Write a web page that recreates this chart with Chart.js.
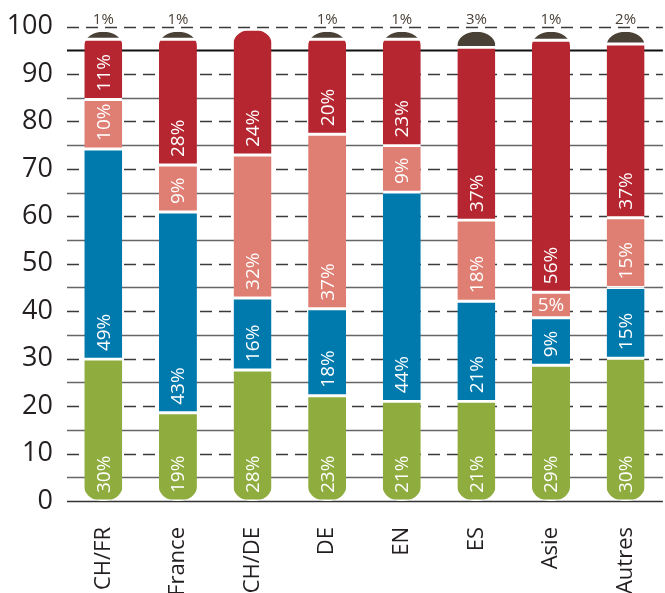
<!DOCTYPE html>
<html>
<head>
<meta charset="utf-8">
<title>Stacked bars</title>
<script src="https://cdn.jsdelivr.net/npm/chart.js@4.4.0/dist/chart.umd.min.js"></script>
<style>
  html, body { margin: 0; padding: 0; background: #fff; overflow: hidden; }
  #wrap { width: 670px; height: 593px; }
</style>
</head>
<body>
<div id="wrap"><canvas id="chart" width="670" height="593"></canvas></div>
<script>
// Categories
const categories = ["CH/FR", "France", "CH/DE", "DE", "EN", "ES", "Asie", "Autres"];

// Segment heights as drawn in the picture
const greenValues  = [29.9, 18.6, 27.6, 22.2, 21.0, 21.0, 28.6, 30.1];
const blueValues   = [44.3, 42.3, 15.2, 18.3, 44.1, 21.1, 10.0, 14.9];
const salmonValues = [10.4,  9.9, 30.1, 36.8,  9.8, 17.1,  5.4, 14.7];
const redValues    = [12.7, 26.5, 26.5, 20.0, 22.4, 36.4, 53.1, 36.6];
const capValues    = [ 1.6,  1.6, null,  1.6,  1.6,  3.3,  1.8,  2.6];

// Printed percentages
const greenLabels  = ["30%", "19%", "28%", "23%", "21%", "21%", "29%", "30%"];
const blueLabels   = ["49%", "43%", "16%", "18%", "44%", "21%", "9%", "15%"];
const salmonLabels = ["10%", "9%", "32%", "37%", "9%", "18%", "5%", "15%"];
const redLabels    = ["11%", "28%", "24%", "20%", "23%", "37%", "56%", "37%"];
const capLabels    = ["1%", "1%", "", "1%", "1%", "3%", "1%", "2%"];

// Y axis: grid every 5, labels every 10
const yTicks = [0, 5, 10, 15, 20, 25, 30, 35, 40, 45, 50, 55, 60, 65, 70, 75, 80, 85, 90, 95, 100];

const FONT = "'Open Sans', 'Noto Sans', sans-serif";

// grid lines: dashed on tens, solid on fives, heavy at 95
const gridPlugin = {
  id: "gridLines",
  beforeDatasetsDraw(chart) {
    const ctx = chart.ctx;
    const yScale = chart.scales.y;
    const area = chart.chartArea;
    yTicks.forEach(v => {
      const py = Math.round(yScale.getPixelForValue(v)) + 0.5;
      ctx.save();
      if (v === 95) {
        ctx.strokeStyle = "#111111";
        ctx.lineWidth = 2.2;
      } else if (v === 0) {
        ctx.strokeStyle = "#333333";
        ctx.lineWidth = 1.6;
      } else if (v % 10 === 0) {
        ctx.strokeStyle = "#3a3a3a";
        ctx.lineWidth = 1.4;
        ctx.setLineDash([12, 7]);
      } else {
        ctx.strokeStyle = "#666666";
        ctx.lineWidth = 1.4;
      }
      ctx.beginPath();
      ctx.moveTo(area.left + 1, py);
      ctx.lineTo(area.right, py);
      ctx.stroke();
      ctx.restore();
    });
  }
};

// clip all bars into capsule shapes (rounded top and bottom)
const capsulePlugin = {
  id: "capsules",
  beforeDatasetsDraw(chart) {
    const ctx = chart.ctx;
    const yScale = chart.scales.y;
    const meta0 = chart.getDatasetMeta(0);
    ctx.save();
    ctx.beginPath();
    meta0.data.forEach((bar, i) => {
      const total = chart.data.datasets.reduce((s, ds) => s + (ds.data[i] || 0), 0);
      const top = yScale.getPixelForValue(total);
      const bottom = yScale.getPixelForValue(0);
      const rx = bar.width / 2;
      const ry = 14;
      ctx.moveTo(bar.x - rx, top + ry);
      ctx.ellipse(bar.x, top + ry, rx, ry, 0, Math.PI, 2 * Math.PI);
      ctx.lineTo(bar.x + rx, bottom - ry);
      ctx.ellipse(bar.x, bottom - ry, rx, ry, 0, 0, Math.PI);
      ctx.closePath();
    });
    ctx.clip();
  },
  afterDatasetsDraw(chart) {
    chart.ctx.restore();
  }
};

// percentage labels
const segmentLabelPlugin = {
  id: "segmentLabels",
  afterDatasetsDraw(chart) {
    const ctx = chart.ctx;
    chart.data.datasets.forEach((ds, di) => {
      const meta = chart.getDatasetMeta(di);
      meta.data.forEach((bar, i) => {
        const text = ds.pctLabels[i];
        if (!text) return;
        const { x, y, base } = bar.getProps(["x", "y", "base"], true);
        ctx.save();
        if (ds.outside) {
          ctx.font = "15px " + FONT;
          ctx.fillStyle = "#4a4238";
          ctx.textAlign = "center";
          ctx.textBaseline = "alphabetic";
          ctx.fillText(text, x, y - 8);
        } else {
          ctx.font = "19px " + FONT;
          ctx.fillStyle = "#ffffff";
          const w = ctx.measureText(text).width;
          const h = base - y;
          if (h >= w + 8) {
            ctx.translate(x, base - 8);
            ctx.rotate(-Math.PI / 2);
            ctx.textAlign = "left";
            ctx.textBaseline = "middle";
            ctx.fillText(text, 0, 1);
          } else {
            ctx.textAlign = "center";
            ctx.textBaseline = "middle";
            ctx.fillText(text, x, (y + base) / 2 + 1);
          }
        }
        ctx.restore();
      });
    });
  }
};

function makeSet(label, data, color, pctLabels, outside) {
  return {
    label: label,
    data: data,
    pctLabels: pctLabels,
    outside: outside,
    backgroundColor: color,
    borderColor: "#ffffff",
    borderWidth: { top: outside ? 0 : 1.8, bottom: 1.8, left: 0, right: 0 },
    borderSkipped: false,
    barThickness: 38
  };
}

new Chart(document.getElementById("chart"), {
  type: "bar",
  data: {
    labels: categories,
    datasets: [
      makeSet("green", greenValues, "#8fac3f", greenLabels, false),
      makeSet("blue", blueValues, "#007aad", blueLabels, false),
      makeSet("salmon", salmonValues, "#df7f74", salmonLabels, false),
      makeSet("red", redValues, "#b52630", redLabels, false),
      makeSet("cap", capValues, "#4a4136", capLabels, true)
    ]
  },
  options: {
    responsive: false,
    animation: false,
    layout: { padding: { top: 23, right: 0, bottom: 0, left: 0 } },
    plugins: {
      legend: { display: false },
      tooltip: { enabled: false }
    },
    scales: {
      x: {
        stacked: true,
        offset: true,
        grid: { display: false },
        border: { display: false },
        ticks: {
          autoSkip: false,
          minRotation: 90,
          maxRotation: 90,
          padding: 18,
          color: "#231f20",
          font: { family: FONT, size: 22 }
        },
        afterFit(scale) { scale.height = 92; }
      },
      y: {
        stacked: true,
        min: yTicks[0],
        max: yTicks[yTicks.length - 1],
        afterBuildTicks(scale) {
          scale.ticks = yTicks.filter(v => v % 10 === 0).map(v => ({ value: v }));
        },
        border: { display: false },
        grid: { display: false, drawTicks: false },
        ticks: {
          autoSkip: false,
          padding: 13,
          color: "#231f20",
          font: { family: FONT, size: 27, lineHeight: 1 }
        },
        afterFit(scale) { scale.width = 66; }
      }
    }
  },
  plugins: [gridPlugin, capsulePlugin, segmentLabelPlugin]
});
</script>
</body>
</html>
